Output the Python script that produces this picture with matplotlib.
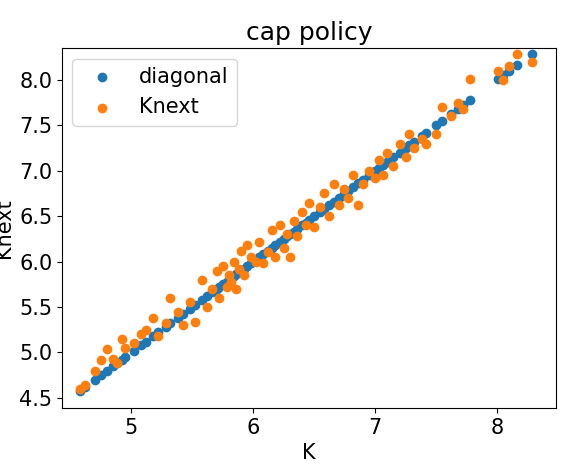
import matplotlib
matplotlib.use("Agg")
import matplotlib.pyplot as plt

K = [4.58, 4.62, 4.70, 4.75, 4.80, 4.85, 4.88, 4.92, 4.95, 5.02, 5.08, 5.12, 5.18, 5.22,
     5.28, 5.32, 5.38, 5.42, 5.48, 5.52, 5.58, 5.62, 5.66, 5.70, 5.72, 5.75, 5.78, 5.80,
     5.82, 5.84, 5.86, 5.88, 5.90, 5.92, 5.95, 5.98, 6.02, 6.05, 6.08, 6.12, 6.15, 6.18,
     6.22, 6.25, 6.28, 6.30, 6.33, 6.36, 6.40, 6.43, 6.46, 6.50, 6.55, 6.58, 6.62, 6.66,
     6.70, 6.74, 6.78, 6.82, 6.86, 6.90, 6.95, 7.00, 7.03, 7.06, 7.10, 7.15, 7.20, 7.25,
     7.28, 7.32, 7.38, 7.42, 7.50, 7.55, 7.62, 7.68, 7.72, 7.78, 8.01, 8.05, 8.10, 8.16, 8.29]
Knext = [4.60, 4.64, 4.80, 4.92, 5.04, 4.93, 4.88, 5.15, 5.05, 5.10, 5.20, 5.25, 5.38, 5.18,
         5.32, 5.60, 5.45, 5.30, 5.55, 5.33, 5.80, 5.50, 5.70, 5.90, 5.60, 5.95, 5.72, 5.85,
         5.78, 6.00, 5.70, 5.92, 6.12, 5.85, 6.18, 6.05, 6.00, 6.22, 5.98, 6.10, 6.35, 6.05,
         6.40, 6.15, 6.30, 6.05, 6.45, 6.28, 6.55, 6.40, 6.65, 6.38, 6.60, 6.75, 6.50, 6.85,
         6.62, 6.80, 6.70, 6.95, 6.62, 6.85, 7.00, 6.92, 7.12, 6.95, 7.20, 7.05, 7.30, 7.15,
         7.40, 7.25, 7.35, 7.30, 7.40, 7.70, 7.60, 7.75, 7.68, 8.01, 8.10, 8.00, 8.15, 8.29, 8.20]

plt.rcParams['font.size'] = 15
fig, ax = plt.subplots(figsize=(5.64, 4.72), dpi=100)
ax.scatter(K, K, label="diagonal")
ax.scatter(K, Knext, label="Knext")
ax.set_xlabel("K")
ax.set_ylabel("Knext")
ax.set_title("cap policy")
ax.legend(loc="upper left")
ax.set_xlim(4.43, 8.48)
ax.set_ylim(4.39, 8.35)
fig.subplots_adjust(left=0.11, right=0.985, top=0.898, bottom=0.136)
fig.savefig("out.png")
